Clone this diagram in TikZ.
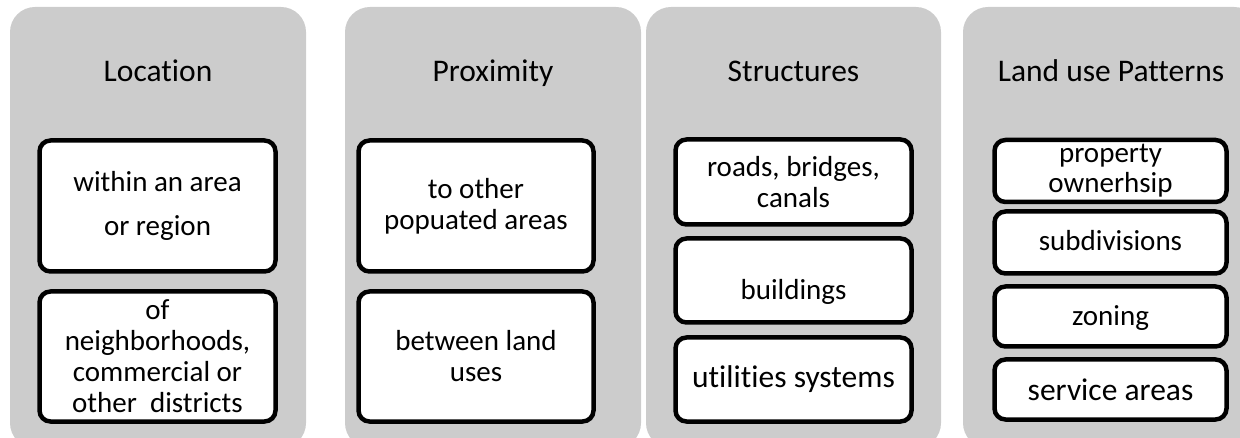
\documentclass[tikz,border=0pt]{standalone}
\usepackage{fontspec}
\setmainfont{Carlito}[Ligatures=NoCommon]
\colorlet{panelgray}{black!20}

\begin{document}
\begin{tikzpicture}[x=1pt,y=-1pt]
\tikzset{PanelStyle/.style ={fill=panelgray, rounded corners=25pt, inner sep=0,
  minimum width=296pt, minimum height=441pt}}
\tikzset{TitleStyle/.style ={inner sep=0, anchor=base, font=\fontsize{31.5}{38}\selectfont}}
\tikzset{ItemStyle/.style ={draw, fill=white, line width=4.5pt, rounded corners=11pt,
  inner sep=0, align=center, font=\fontsize{29}{31}\selectfont}}
\tikzset{LowText/.style ={text depth=0pt, text height=#1}}
\clip (0,0) rectangle (1240,438);
\node[PanelStyle] (loc) at (158,227.5) {};
\node[PanelStyle] (prox) at (493,227.5) {};
\node[PanelStyle, minimum width=295pt] (struc) at (793.5,227.5) {};
\node[PanelStyle] (land) at (1111,227.5) {};
\node[TitleStyle] (locT) at (158,82) {Location};
\node[TitleStyle] (proxT) at (493,82) {Proximity};
\node[TitleStyle] (strucT) at (793.5,82) {Structures};
\node[TitleStyle] (landT) at (1111,82) {Land use Patterns};
\node[ItemStyle, minimum width=236pt, minimum height=131pt, font=\fontsize{29}{44}\selectfont]
  (loc1) at (157.5,206) {within an area\\or region};
\node[ItemStyle, minimum width=236pt, minimum height=130pt] (loc2) at (157.5,356.5)
  {of\\neighborhoods,\\commercial or\\other\ \ districts};
\node[ItemStyle, minimum width=235pt, minimum height=131pt] (prox1) at (476,206)
  {to other\\popuated areas};
\node[ItemStyle, minimum width=235pt, minimum height=130pt] (prox2) at (476,356.5)
  {between land\\uses};
\node[ItemStyle, minimum width=236pt, minimum height=85pt] (struc1) at (793.5,182)
  {roads, bridges,\\canals};
\node[ItemStyle, minimum width=236pt, minimum height=84pt, LowText=39pt] (struc2)
  at (793.5,280.5) {buildings};
\node[ItemStyle, minimum width=236pt, minimum height=84pt, LowText=17pt,
  font=\fontsize{31.5}{34}\selectfont] (struc3) at (793.5,379.5) {utilities systems};
\node[ItemStyle, minimum width=232pt, minimum height=62pt, font=\fontsize{29}{30}\selectfont]
  (land1) at (1110.5,171) {property\\ownerhsip};
\node[ItemStyle, minimum width=232pt, minimum height=62pt, LowText=17pt] (land2)
  at (1110.5,242.5) {subdivisions};
\node[ItemStyle, minimum width=232pt, minimum height=60pt, LowText=19pt] (land3)
  at (1110.5,316.5) {zoning};
\node[ItemStyle, minimum width=232pt, minimum height=60pt, LowText=21pt,
  font=\fontsize{31.5}{34}\selectfont] (land4) at (1110.5,389.5) {service areas};
\end{tikzpicture}
\end{document}
